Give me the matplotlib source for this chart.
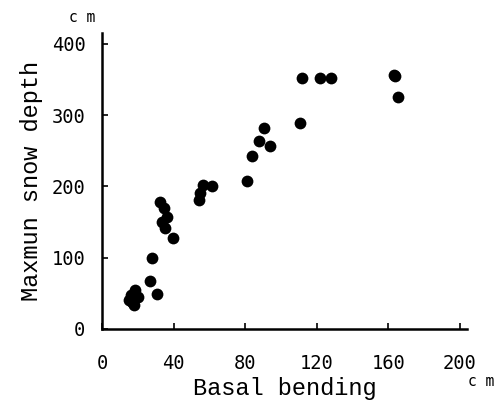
import matplotlib
matplotlib.use("Agg")
import matplotlib.pyplot as plt

# Basal bending (cm) vs maximum snow depth (cm)
basal_bending = [15, 18.4, 20, 18, 16, 17, 31, 27, 28, 32.4, 34.6, 36.1, 33.3, 35.2, 39.8,
                 54.4, 54.7, 56.6, 61.3, 80.8, 83.6, 87.9, 90.5, 93.9, 110.6, 111.6,
                 121.8, 127.8, 163.1, 164, 165.5]
snow_depth = [41, 54.7, 45, 33, 48, 38, 49, 67, 99, 178.7, 169, 157.6, 150.6, 141, 127,
              181, 190, 202, 200, 208, 242, 263, 282.5, 256, 289, 352,
              352, 352, 356.5, 355, 325]

x_ticks = [0, 40, 80, 120, 160, 200]
y_ticks = [0, 100, 200, 300, 400]

mono = "Liberation Mono"
digits = "DejaVu Sans Mono"

fig = plt.figure(figsize=(4.97, 4.04), dpi=100)
ax = fig.add_axes([102 / 497, 75 / 404, 365 / 497, 296 / 404])
ax.scatter(basal_bending, snow_depth, s=72, color="black", linewidths=0, zorder=3)

ax.set_xlim(0, 204)
ax.set_ylim(0, 415)
ax.set_xticks(x_ticks)
ax.set_yticks(y_ticks)
ax.spines["top"].set_visible(False)
ax.spines["right"].set_visible(False)
for s in ("left", "bottom"):
    ax.spines[s].set_linewidth(1.8)
ax.tick_params(direction="in", length=4, width=1.2)
ax.tick_params(axis="x", pad=18)
ax.tick_params(axis="y", pad=12)
for lab in ax.get_xticklabels() + ax.get_yticklabels():
    lab.set_fontfamily(digits)
    lab.set_fontsize(13.5)

ax.set_xlabel("Basal bending", fontfamily=mono, fontsize=17, labelpad=3)
ax.set_ylabel("Maxmun snow depth", fontfamily=mono, fontsize=17, labelpad=6)

fig.text(82 / 497, 1 - 18 / 404, "c m", fontfamily=digits, fontsize=10.5,
         ha="center", va="center")
fig.text(481 / 497, 1 - 381 / 404, "c m", fontfamily=digits, fontsize=10.5,
         ha="center", va="center")

fig.savefig("out.png", dpi=100)
